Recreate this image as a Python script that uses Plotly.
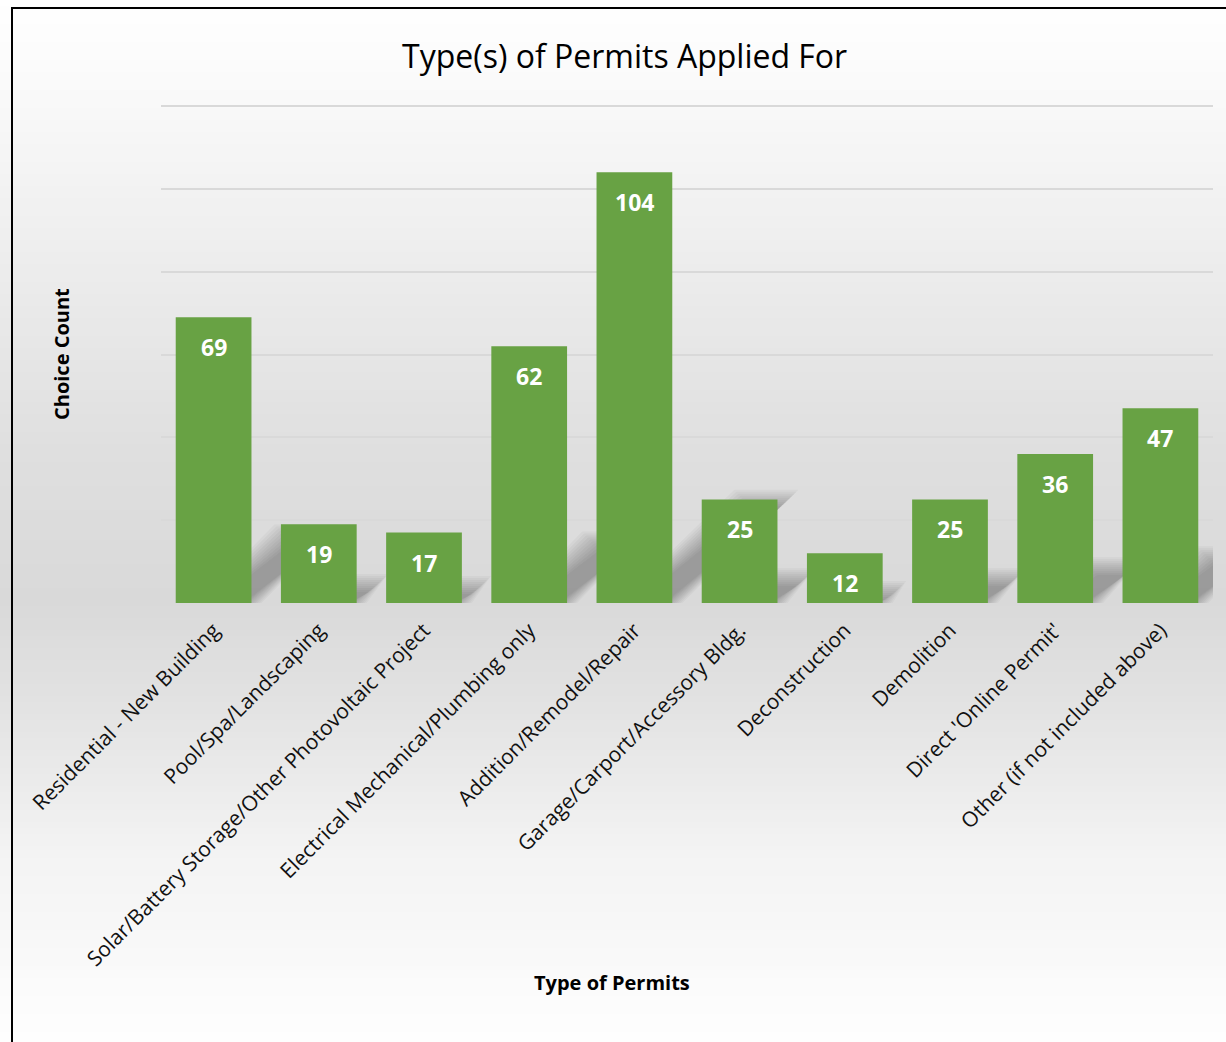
import plotly.graph_objects as go

# Survey results: how many respondents chose each permit type
categories = [
    "Residential - New Building",
    "Pool/Spa/Landscaping",
    "Solar/Battery Storage/Other Photovoltaic Project",
    "Electrical Mechanical/Plumbing only",
    "Addition/Remodel/Repair",
    "Garage/Carport/Accessory Bldg.",
    "Deconstruction",
    "Demolition",
    "Direct 'Online Permit'",
    "Other (if not included above)",
]
counts = [69, 19, 17, 62, 104, 25, 12, 25, 36, 47]

W, H = 1226, 1042
YMAX = 120.5
L, R, T, B = 161, 13, 104, 439          # plot area: x 161..1213, y 104..603
PW, PH = W - L - R, H - T - B
PX_PER_CAT = PW / len(categories)
PX_PER_UNIT = PH / YMAX
BAR_HALF = 0.36                          # half bar width, in category units


def xp(px):
    """pixel x -> paper x"""
    return (px - L) / PW


def yp(py):
    """pixel y -> paper y"""
    return (H - B - py) / PH


FONT = "Open Sans"
idx = list(range(len(categories)))

fig = go.Figure(
    go.Bar(
        x=idx,
        y=counts,
        width=2 * BAR_HALF,
        marker=dict(color="#68a244", line=dict(width=0)),
        customdata=categories,
        hovertemplate="%{customdata}: %{y}<extra></extra>",
    )
)

# soft grey background gradient, darkest around the baseline
stops = [
    (0, (255, 255, 255)),
    (100, (249, 249, 249)),
    (300, (234, 234, 234)),
    (450, (223, 223, 223)),
    (600, (217, 217, 217)),
    (700, (226, 226, 226)),
    (850, (243, 243, 243)),
    (1042, (254, 254, 254)),
]


def shade(y):
    for (y0, c0), (y1, c1) in zip(stops, stops[1:]):
        if y0 <= y <= y1:
            t = (y - y0) / (y1 - y0)
            return "rgb(%d,%d,%d)" % tuple(round(a + (b - a) * t) for a, b in zip(c0, c1))
    return "rgb(255,255,255)"


shapes = []
step = 6
for y in range(0, H, step):
    shapes.append(dict(
        type="rect", xref="paper", yref="paper", layer="below",
        x0=xp(0), x1=xp(W), y0=yp(y + step), y1=yp(y),
        fillcolor=shade(y + step / 2), line=dict(width=0),
    ))

# blurred perspective shadows cast up and to the right of each bar
N_BLUR = 10
for i, v in zip(idx, counts):
    h_px = v * PX_PER_UNIT
    dx = 0.27 * h_px / PX_PER_CAT
    top = 0.24 * v
    for k in range(N_BLUR):
        g = k * 2 - 8
        gx = g / PX_PER_CAT
        gy = g / PX_PER_UNIT
        bl = i - BAR_HALF + 0.3 - gx
        br = i + BAR_HALF + gx
        ty = max(top + gy, 0.5)
        path = (f"M {bl},0 L {br},0 L {br + dx},{ty} "
                f"L {bl + dx},{ty} Z")
        shapes.append(dict(
            type="path", xref="x", yref="y", layer="below", path=path,
            fillcolor="rgba(0,0,0,0.03)", line=dict(width=0),
        ))

# frame around the chart (left and top edges visible)
shapes.append(dict(type="line", xref="paper", yref="paper", layer="above",
                   x0=xp(12), x1=xp(12), y0=yp(8), y1=yp(H + 5),
                   line=dict(color="black", width=2)))
shapes.append(dict(type="line", xref="paper", yref="paper", layer="above",
                   x0=xp(11), x1=xp(W + 5), y0=yp(8), y1=yp(8),
                   line=dict(color="black", width=2)))

annotations = []
for i, v in zip(idx, counts):
    annotations.append(dict(
        x=i, y=v, xref="x", yref="y", text=f"<b>{v}</b>", showarrow=False,
        yanchor="middle", yshift=-30,
        font=dict(family=FONT, size=23, color="white"),
    ))

annotations.append(dict(
    text="<b>Choice Count</b>", xref="paper", yref="paper",
    x=xp(61), y=yp(354), textangle=-90, showarrow=False,
    xanchor="center", yanchor="middle",
    font=dict(family=FONT, size=20, color="black"),
))
annotations.append(dict(
    text="<b>Type of Permits</b>", xref="paper", yref="paper",
    x=xp(612), y=yp(983), showarrow=False,
    xanchor="center", yanchor="middle",
    font=dict(family=FONT, size=20, color="black"),
))
annotations.append(dict(
    text="Type(s) of Permits Applied For", xref="paper", yref="paper",
    x=xp(624), y=yp(55), showarrow=False,
    xanchor="center", yanchor="middle",
    font=dict(family=FONT, size=32, color="black"),
))

fig.update_layout(
    width=W, height=H,
    margin=dict(l=L, r=R, t=T, b=B, autoexpand=False),
    paper_bgcolor="white",
    plot_bgcolor="rgba(0,0,0,0)",
    showlegend=False,
    shapes=shapes,
    annotations=annotations,
    xaxis=dict(
        range=[-0.5, len(categories) - 0.5],
        tickmode="array", tickvals=idx, ticktext=categories,
        tickangle=-45, showgrid=False, showline=False, ticks="",
        ticklabelstandoff=10,
        tickfont=dict(family=FONT, size=21, color="#111111"),
        zeroline=False, automargin=False,
    ),
    yaxis=dict(
        range=[0, YMAX], dtick=20, showticklabels=False, showline=False,
        gridcolor="#d9d9d9", gridwidth=2, zeroline=False, ticks="",
        automargin=False,
    ),
)

fig.write_html("out.html")
